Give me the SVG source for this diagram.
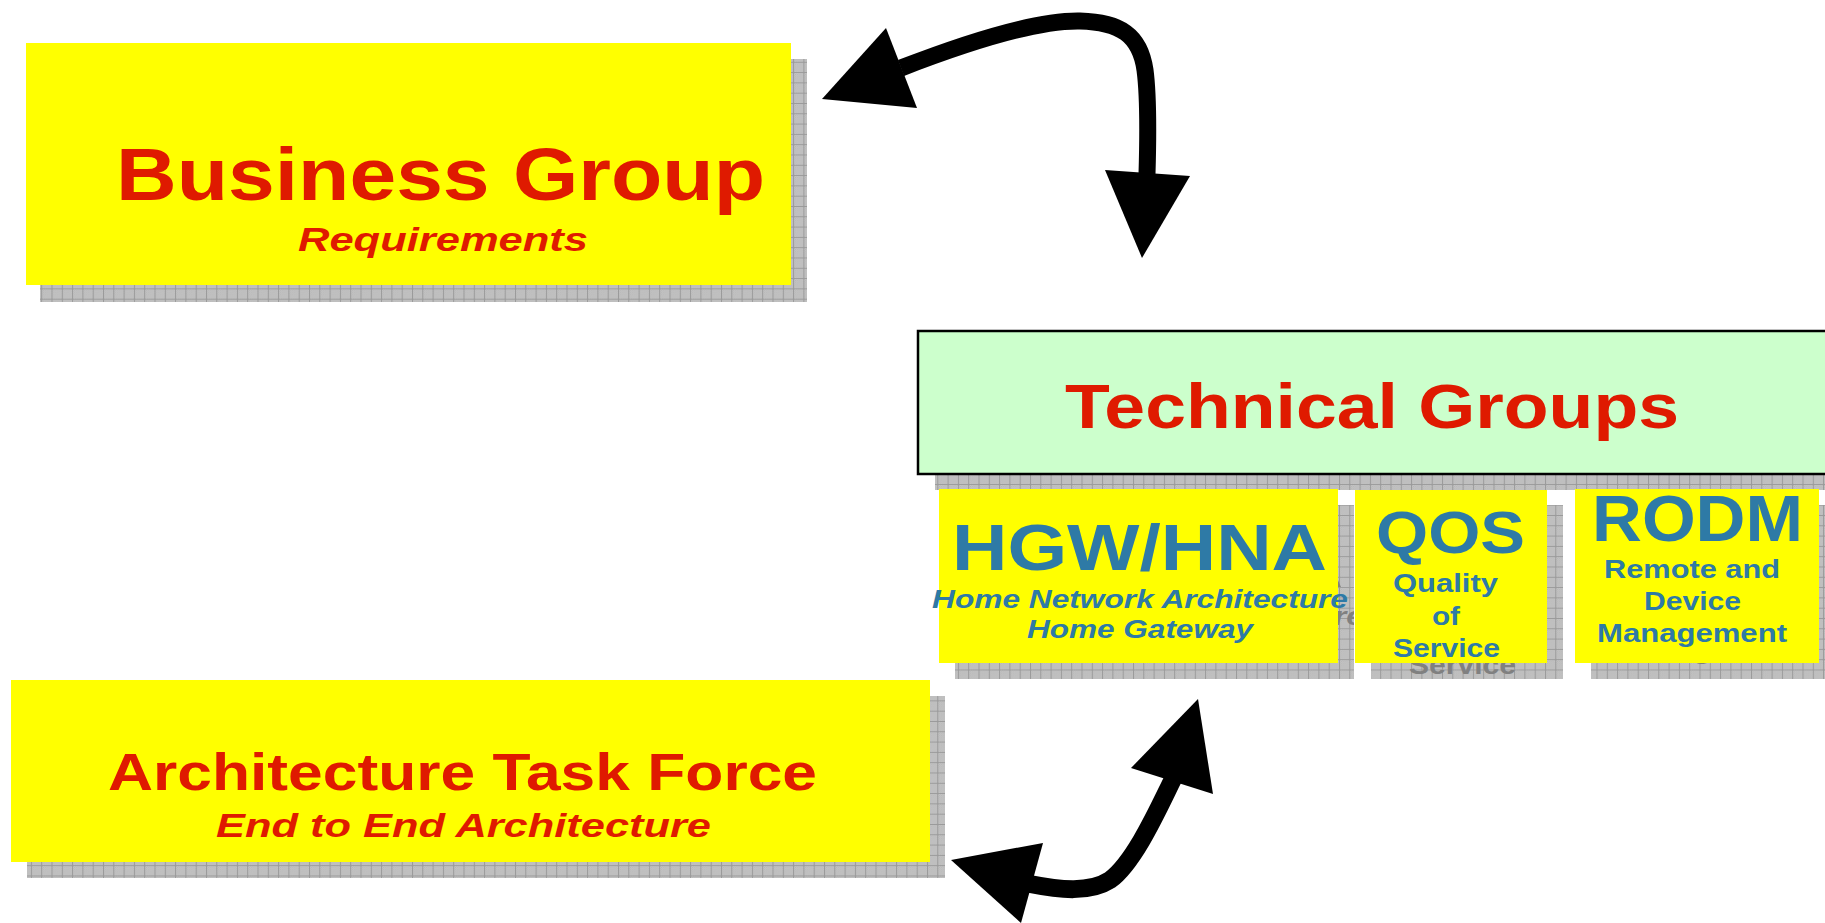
<svg xmlns="http://www.w3.org/2000/svg" width="1825" height="923" viewBox="0 0 1825 923">
<style>
.red{fill:#DF1A00;font-family:"Liberation Sans",Arial,sans-serif;font-weight:bold}
.blue{fill:#2E7AA6;font-family:"Liberation Sans",Arial,sans-serif;font-weight:bold}
.ghost{fill:#808080;font-family:"Liberation Sans",Arial,sans-serif;font-weight:bold}
.it{font-style:italic}
.yel{fill:#FFFF00}
.shadow{fill:url(#grid)}
</style>
<defs>
<pattern id="dither" width="2" height="2" patternUnits="userSpaceOnUse"><rect width="2" height="2" fill="#c9c9c9"/><rect width="1" height="1" fill="#b5b5b5"/><rect x="1" y="1" width="1" height="1" fill="#b5b5b5"/></pattern>
<pattern id="grid" width="10.3" height="10.3" patternUnits="userSpaceOnUse"><rect width="10.3" height="10.3" fill="url(#dither)"/><path d="M0 0.5H10.3M0.5 0V10.3" stroke="#9a9a9a" stroke-width="1"/></pattern>
<clipPath id="cHgw"><rect x="955" y="505" width="399" height="174"/></clipPath>
<clipPath id="cQos"><rect x="1371" y="505" width="192" height="174"/></clipPath>
<clipPath id="cRodm"><rect x="1591" y="505" width="240" height="174"/></clipPath>
</defs>
<rect width="1825" height="923" fill="#ffffff"/>

<g id="business-group">
<rect class="shadow" x="40" y="59" width="767" height="243"/>
<rect class="yel" x="26" y="43" width="765" height="242"/>
<text class="red" x="116" y="200" font-size="75" textLength="649" lengthAdjust="spacingAndGlyphs">Business Group</text>
<text class="red it" x="298" y="251" font-size="34" textLength="290" lengthAdjust="spacingAndGlyphs">Requirements</text>
</g>

<g id="technical-groups">
<rect class="shadow" x="935" y="347" width="900" height="143"/>
<rect x="918" y="331" width="920" height="143" fill="#CCFFCC" stroke="#000" stroke-width="2.5"/>
<text class="red" x="1065" y="428" font-size="63" textLength="614" lengthAdjust="spacingAndGlyphs">Technical Groups</text>
</g>

<g id="hgw-hna">
<rect class="shadow" x="955" y="505" width="399" height="174"/>
<g clip-path="url(#cHgw)">
<text class="ghost" x="968" y="587" font-size="65" textLength="375" lengthAdjust="spacingAndGlyphs">HGW/HNA</text>
<text class="ghost it" x="948" y="625" font-size="25" textLength="416" lengthAdjust="spacingAndGlyphs">Home Network Architecture</text>
</g>
<rect class="yel" x="939" y="489" width="399" height="174"/>
<text class="blue" x="952" y="570" font-size="65" textLength="375" lengthAdjust="spacingAndGlyphs">HGW/HNA</text>
<text class="blue it" x="932" y="608" font-size="25" textLength="416" lengthAdjust="spacingAndGlyphs">Home Network Architecture</text>
<text class="blue it" x="1027" y="638" font-size="25" textLength="226" lengthAdjust="spacingAndGlyphs">Home Gateway</text>
</g>

<g id="qos">
<rect class="shadow" x="1371" y="505" width="192" height="174"/>
<g clip-path="url(#cQos)">
<text class="ghost" x="1409" y="674" font-size="25" textLength="107" lengthAdjust="spacingAndGlyphs">Service</text>
</g>
<rect class="yel" x="1355" y="490" width="192" height="173"/>
<text class="blue" x="1376" y="553" font-size="60" textLength="149" lengthAdjust="spacingAndGlyphs">QOS</text>
<text class="blue" x="1393" y="592" font-size="25" textLength="105" lengthAdjust="spacingAndGlyphs">Quality</text>
<text class="blue" x="1432" y="625" font-size="25" textLength="28" lengthAdjust="spacingAndGlyphs">of</text>
<text class="blue" x="1393" y="657" font-size="25" textLength="107" lengthAdjust="spacingAndGlyphs">Service</text>
</g>

<g id="rodm">
<rect class="shadow" x="1591" y="505" width="240" height="174"/>
<g clip-path="url(#cRodm)">
<text class="ghost" x="1613" y="659" font-size="25" textLength="190" lengthAdjust="spacingAndGlyphs">Management</text>
</g>
<rect class="yel" x="1575" y="489" width="244" height="174"/>
<text class="blue" x="1592" y="541" font-size="64" textLength="211" lengthAdjust="spacingAndGlyphs">RODM</text>
<text class="blue" x="1604" y="578" font-size="25" textLength="176" lengthAdjust="spacingAndGlyphs">Remote and</text>
<text class="blue" x="1644" y="610" font-size="25" textLength="97" lengthAdjust="spacingAndGlyphs">Device</text>
<text class="blue" x="1597" y="642" font-size="25" textLength="190" lengthAdjust="spacingAndGlyphs">Management</text>
</g>

<g id="architecture-task-force">
<rect class="shadow" x="27" y="696" width="918" height="182"/>
<rect class="yel" x="11" y="680" width="919" height="182"/>
<text class="red" x="108" y="790" font-size="52" textLength="709" lengthAdjust="spacingAndGlyphs">Architecture Task Force</text>
<text class="red it" x="216" y="837" font-size="33" textLength="495" lengthAdjust="spacingAndGlyphs">End to End Architecture</text>
</g>

<g id="connectors">
<path d="M 901,68 C 950,49 1030,20 1080,21 C 1120,22 1140,35 1145,70 C 1149,100 1148,140 1147,174" fill="none" stroke="#000" stroke-width="17"/>
<polygon points="822,99 886,28 917,108" fill="#000"/>
<polygon points="1105,170 1190,176 1142,258" fill="#000"/>
<path d="M 1030,884 C 1060,890 1090,893 1110,880 C 1135,862 1160,805 1173,779" fill="none" stroke="#000" stroke-width="18"/>
<polygon points="1198,699 1131,768 1213,794" fill="#000"/>
<polygon points="951,860 1043,843 1021,923" fill="#000"/>
</g>
</svg>
